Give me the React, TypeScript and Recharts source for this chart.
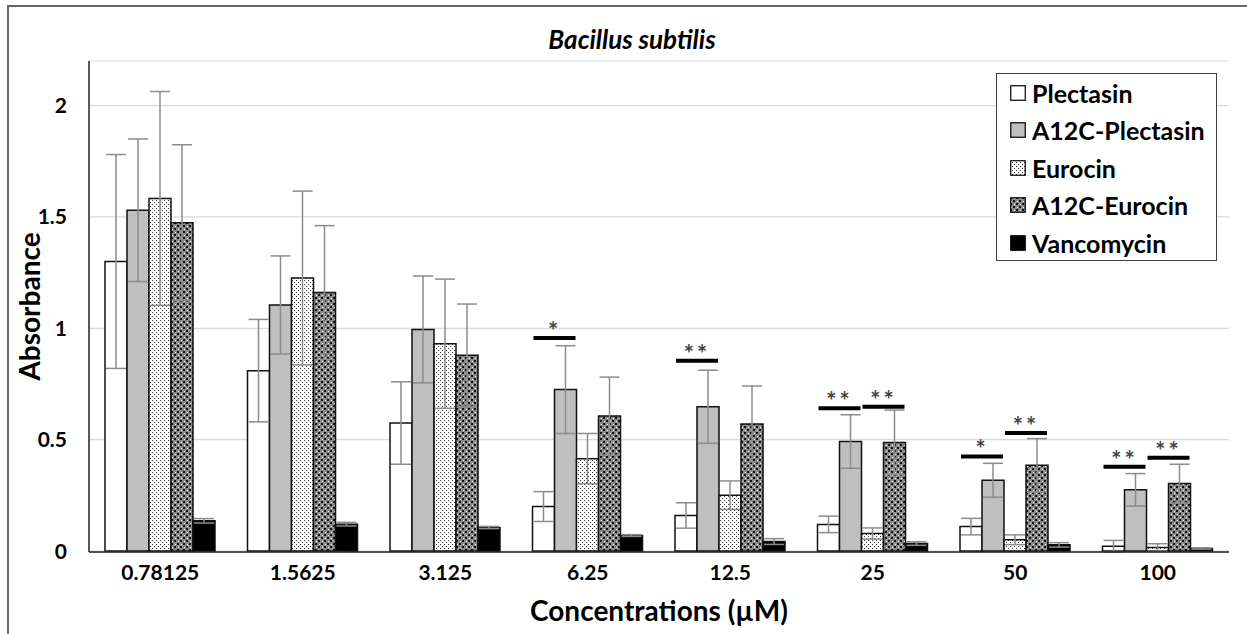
import {
  BarChart,
  Bar,
  XAxis,
  YAxis,
  CartesianGrid,
  ErrorBar,
  Legend,
  LabelList,
} from "recharts";

const categories = ["0.78125", "1.5625", "3.125", "6.25", "12.5", "25", "50", "100"];

const plectasin = [1.3, 0.81, 0.575, 0.2, 0.16, 0.12, 0.11, 0.022];
const plectasinErr = [0.48, 0.23, 0.185, 0.067, 0.057, 0.037, 0.037, 0.026];
const a12cPlectasin = [1.53, 1.105, 0.995, 0.725, 0.648, 0.492, 0.318, 0.275];
const a12cPlectasinErr = [0.32, 0.22, 0.24, 0.197, 0.164, 0.12, 0.076, 0.073];
const eurocin = [1.583, 1.226, 0.931, 0.415, 0.251, 0.079, 0.051, 0.016];
const eurocinErr = [0.48, 0.39, 0.29, 0.113, 0.064, 0.025, 0.022, 0.017];
const a12cEurocin = [1.474, 1.161, 0.879, 0.606, 0.571, 0.488, 0.385, 0.303];
const a12cEurocinErr = [0.35, 0.3, 0.23, 0.175, 0.17, 0.145, 0.12, 0.087];
const vancomycin = [0.136, 0.121, 0.106, 0.07, 0.043, 0.034, 0.028, 0.012];
const vancomycinErr = [0.01, 0.008, 0.005, 0.004, 0.013, 0.008, 0.01, 0.003];

// significance bars: Plectasin vs A12C-Plectasin, Eurocin vs A12C-Eurocin
const sigPlectasin = [null, null, null, 0.957, 0.854, 0.641, 0.425, 0.379];
const starsPlectasin = ["", "", "", "*", "**", "**", "*", "**"];
const sigEurocin = [null, null, null, null, null, 0.648, 0.53, 0.419];
const starsEurocin = ["", "", "", "", "", "**", "**", "**"];

const yTicks = [0, 0.5, 1, 1.5, 2];

const data = categories.map((category, i) => ({
  category,
  plectasin: plectasin[i],
  plectasinErr: plectasinErr[i],
  a12cPlectasin: a12cPlectasin[i],
  a12cPlectasinErr: a12cPlectasinErr[i],
  eurocin: eurocin[i],
  eurocinErr: eurocinErr[i],
  a12cEurocin: a12cEurocin[i],
  a12cEurocinErr: a12cEurocinErr[i],
  vancomycin: vancomycin[i],
  vancomycinErr: vancomycinErr[i],
  sigPlectasin: sigPlectasin[i],
  sigEurocin: sigEurocin[i],
}));

const series = [
  { key: "plectasin", name: "Plectasin", fill: "#ffffff" },
  { key: "a12cPlectasin", name: "A12C-Plectasin", fill: "#bfbfbf" },
  { key: "eurocin", name: "Eurocin", fill: "url(#eurocinDots)" },
  { key: "a12cEurocin", name: "A12C-Eurocin", fill: "url(#a12cEurocinCheck)" },
  { key: "vancomycin", name: "Vancomycin", fill: "#000000" },
];

const FONT = "Lato, 'Open Sans', sans-serif";

function sigMark(barKey: string, stars: string[]) {
  return (props: any) => {
    const { viewBox, value, index } = props;
    if (value == null || !viewBox || index == null) return null;
    const barValue = (data[index] as any)[barKey];
    const top = Math.min(viewBox.y, viewBox.y + viewBox.height);
    const h = Math.abs(viewBox.height);
    const base = top + h;
    const yy = base - (value / barValue) * h;
    const x = viewBox.x;
    const w = viewBox.width;
    return (
      <g>
        <line x1={x - w + 1} x2={x + w - 1} y1={yy} y2={yy} stroke="#000" strokeWidth={4} />
        <text
          x={x}
          y={yy + 2}
          textAnchor="middle"
          fontFamily={FONT}
          fontSize={24}
          fontWeight={700}
          letterSpacing={3}
          fill="#444"
        >
          {stars[index]}
        </text>
      </g>
    );
  };
}

function LegendBox() {
  return (
    <div
      style={{
        width: 221,
        height: 188,
        border: "1.5px solid #404040",
        background: "#fff",
        boxSizing: "border-box",
        paddingLeft: 13,
        fontFamily: FONT,
        fontWeight: 700,
        fontSize: 25,
        color: "#000",
      }}
    >
      {series.map((s) => (
        <div key={s.key} style={{ height: 37.5, display: "flex", alignItems: "center" }}>
          <svg width={16} height={16} style={{ marginRight: 6 }}>
            <rect x={0.75} y={0.75} width={14.5} height={14.5} fill={s.fill} stroke="#000" strokeWidth={1.2} />
          </svg>
          <span>{s.name}</span>
        </div>
      ))}
    </div>
  );
}

export default function App() {
  return (
    <div style={{ position: "absolute", left: 0, top: 0, width: 1247, height: 634, background: "#fff" }}>
      <div
        style={{
          position: "absolute",
          left: 7,
          top: 5,
          right: 0,
          bottom: 0,
          borderTop: "2px solid #666",
          borderLeft: "2px solid #666",
        }}
      />
      <div
        style={{
          position: "absolute",
          left: 432,
          width: 400,
          top: 23,
          textAlign: "center",
          fontFamily: FONT,
          fontWeight: 700,
          fontStyle: "italic",
          fontSize: 26,
          color: "#000",
        }}
      >
        Bacillus subtilis
      </div>
      <BarChart
        width={1247}
        height={634}
        data={data}
        margin={{ top: 61, right: 18, bottom: 0, left: 0 }}
        barCategoryGap={16}
        barGap={0}
        style={{ position: "absolute", left: 0, top: 0 }}
      >
        <defs>
          <pattern id="eurocinDots" width={4} height={4} patternUnits="userSpaceOnUse">
            <rect width={4} height={4} fill="#fff" />
            <rect x={0} y={0} width={1} height={1} fill="#333" />
            <rect x={2} y={2} width={1} height={1} fill="#333" />
          </pattern>
          <pattern id="a12cEurocinCheck" width={6} height={6} patternUnits="userSpaceOnUse">
            <rect width={6} height={6} fill="#8a8a8a" />
            <rect x={0} y={0} width={2} height={2} fill="#111" />
            <rect x={3} y={3} width={2} height={2} fill="#111" />
            <rect x={4} y={1} width={1} height={1} fill="#fff" />
            <rect x={1} y={4} width={1} height={1} fill="#fff" />
          </pattern>
        </defs>
        <CartesianGrid vertical={false} stroke="#d9d9d9" strokeWidth={1.2} />
        <XAxis
          dataKey="category"
          height={82}
          tickLine={false}
          tickSize={0}
          tickMargin={13}
          axisLine={{ stroke: "#222", strokeWidth: 1.5 }}
          tick={{ fill: "#000", fontFamily: FONT, fontWeight: 700, fontSize: 21 }}
          label={{
            value: "Concentrations (µM)",
            position: "insideBottom",
            offset: 13,
            style: { fill: "#000", fontFamily: FONT, fontWeight: 700, fontSize: 28 },
          }}
        />
        <XAxis
          xAxisId="top"
          dataKey="category"
          orientation="top"
          height={0}
          tick={false}
          tickLine={false}
          axisLine={{ stroke: "#222", strokeWidth: 1.5 }}
        />
        <YAxis
          width={89}
          domain={[0, 2.2]}
          ticks={yTicks}
          tickLine={false}
          tickSize={0}
          tickMargin={22}
          axisLine={{ stroke: "#222", strokeWidth: 1.5 }}
          tick={{ fill: "#000", fontFamily: FONT, fontWeight: 700, fontSize: 21 }}
          label={{
            value: "Absorbance",
            angle: -90,
            position: "insideLeft",
            offset: 30,
            style: { textAnchor: "middle", fill: "#000", fontFamily: FONT, fontWeight: 700, fontSize: 28 },
          }}
        />
        <YAxis
          yAxisId="right"
          orientation="right"
          width={0}
          domain={[0, 2.2]}
          tick={false}
          tickLine={false}
          axisLine={{ stroke: "#222", strokeWidth: 1.5 }}
        />
        <Legend
          layout="vertical"
          align="center"
          verticalAlign="middle"
          content={<LegendBox />}
          wrapperStyle={{ position: "absolute", top: 73, left: 996, width: 221, height: 188 }}
        />
        {series.map((s) => (
          <Bar
            key={s.key}
            dataKey={s.key}
            name={s.name}
            fill={s.fill}
            stroke="#111"
            strokeWidth={1.5}
            isAnimationActive={false}
          >
            <ErrorBar
              dataKey={s.key + "Err"}
              width={10}
              stroke="#8c8c8c"
              strokeWidth={1.5}
              direction="y"
            />
            {s.key === "a12cPlectasin" && (
              <LabelList dataKey="sigPlectasin" content={sigMark("a12cPlectasin", starsPlectasin)} />
            )}
            {s.key === "a12cEurocin" && (
              <LabelList dataKey="sigEurocin" content={sigMark("a12cEurocin", starsEurocin)} />
            )}
          </Bar>
        ))}
      </BarChart>
    </div>
  );
}
